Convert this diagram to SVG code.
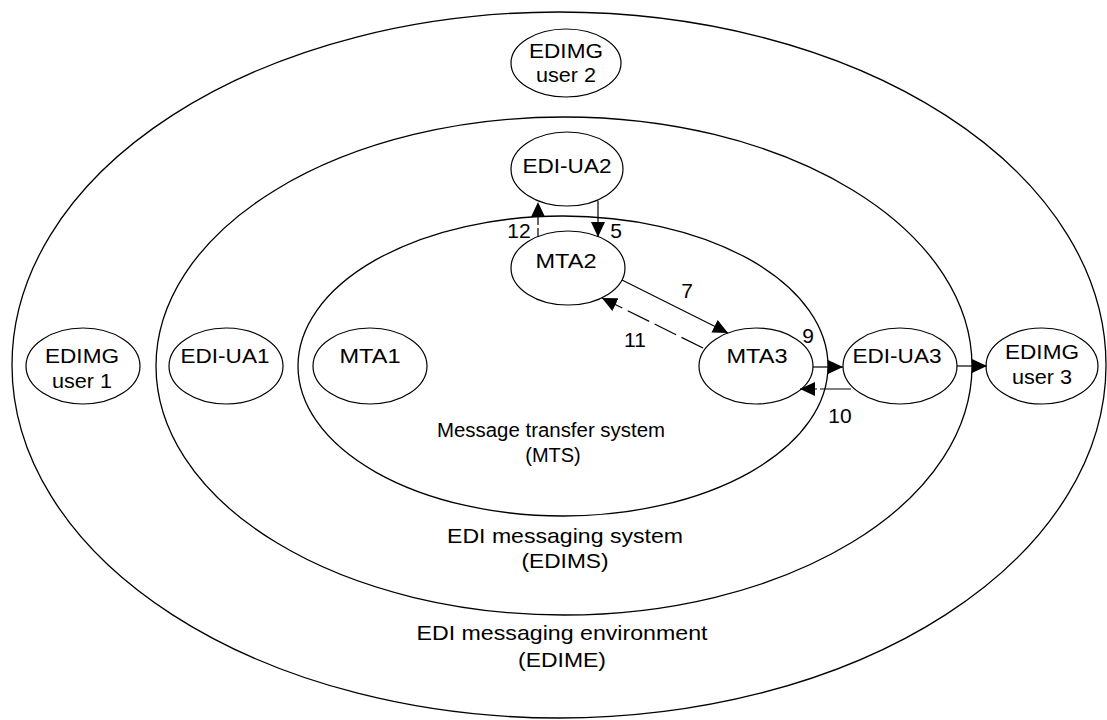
<svg xmlns="http://www.w3.org/2000/svg" width="1107" height="720" viewBox="0 0 1107 720">
<style>
.ring{fill:none;stroke:#000;stroke-width:1.3}
.node{fill:#fff;stroke:#000;stroke-width:1.2}
text{font-family:"Liberation Sans",Arial,sans-serif;font-size:20px;fill:#000;text-anchor:middle}
.lbl{font-size:21px}
.conn{stroke:#000;stroke-width:1.2;fill:none}
.dash1{stroke-dasharray:9 3}
.dash2{stroke-dasharray:24 6}
.dash3{stroke-dasharray:31 3}
</style>
<defs>
<marker id="ah" viewBox="0 0 15 14" markerWidth="15" markerHeight="14" refX="15" refY="7" orient="auto" markerUnits="userSpaceOnUse">
<path d="M0,0 L15,7 L0,14 z" fill="#000"/>
</marker>
</defs>
<rect width="1107" height="720" fill="#fff"/>
<g id="edime">
<ellipse class="ring" cx="559" cy="365" rx="547" ry="353"/>
<text class="lbl" x="562" y="640" textLength="291" lengthAdjust="spacingAndGlyphs">EDI messaging environment</text>
<text class="lbl" x="562" y="667" textLength="88" lengthAdjust="spacingAndGlyphs">(EDIME)</text>
</g>
<g id="edims">
<ellipse class="ring" cx="564" cy="366" rx="408" ry="249"/>
<text class="lbl" x="565" y="543" textLength="236" lengthAdjust="spacingAndGlyphs">EDI messaging system</text>
<text class="lbl" x="565" y="568" textLength="87" lengthAdjust="spacingAndGlyphs">(EDIMS)</text>
</g>
<g id="mts">
<ellipse class="ring" cx="563" cy="366" rx="265" ry="150"/>
<text x="551" y="437" textLength="228" lengthAdjust="spacingAndGlyphs">Message transfer system</text>
<text x="553" y="462">(MTS)</text>
</g>
<g id="edimg-user-2">
<ellipse class="node" cx="566" cy="63" rx="55" ry="34"/>
<text class="lbl" x="566" y="58" textLength="74" lengthAdjust="spacingAndGlyphs">EDIMG</text>
<text class="lbl" x="566" y="82" textLength="60" lengthAdjust="spacingAndGlyphs">user 2</text>
</g>
<g id="edi-ua2">
<ellipse class="node" cx="567" cy="169" rx="56" ry="37"/>
<text class="lbl" x="567" y="173" textLength="89" lengthAdjust="spacingAndGlyphs">EDI-UA2</text>
</g>
<g id="mta2">
<ellipse class="node" cx="568" cy="268" rx="57" ry="37"/>
<text class="lbl" x="566" y="268" textLength="61" lengthAdjust="spacingAndGlyphs">MTA2</text>
</g>
<g id="edimg-user-1">
<ellipse class="node" cx="83" cy="366" rx="57" ry="38"/>
<text class="lbl" x="82" y="363" textLength="74" lengthAdjust="spacingAndGlyphs">EDIMG</text>
<text class="lbl" x="82" y="388" textLength="60" lengthAdjust="spacingAndGlyphs">user 1</text>
</g>
<g id="edi-ua1">
<ellipse class="node" cx="226" cy="366" rx="57" ry="38"/>
<text class="lbl" x="225" y="363" textLength="89" lengthAdjust="spacingAndGlyphs">EDI-UA1</text>
</g>
<g id="mta1">
<ellipse class="node" cx="370" cy="366" rx="57" ry="38"/>
<text class="lbl" x="370" y="363" textLength="61" lengthAdjust="spacingAndGlyphs">MTA1</text>
</g>
<g id="mta3">
<ellipse class="node" cx="756" cy="366" rx="57" ry="38"/>
<text class="lbl" x="757" y="363" textLength="61" lengthAdjust="spacingAndGlyphs">MTA3</text>
</g>
<g id="edi-ua3">
<ellipse class="node" cx="900" cy="366" rx="57" ry="38"/>
<text class="lbl" x="897" y="363" textLength="89" lengthAdjust="spacingAndGlyphs">EDI-UA3</text>
</g>
<g id="edimg-user-3">
<ellipse class="node" cx="1042" cy="366" rx="56" ry="38"/>
<text class="lbl" x="1042" y="359" textLength="74" lengthAdjust="spacingAndGlyphs">EDIMG</text>
<text class="lbl" x="1042" y="384" textLength="60" lengthAdjust="spacingAndGlyphs">user 3</text>
</g>
<g id="connectors">
<line class="conn" x1="598" y1="201" x2="598" y2="237" marker-end="url(#ah)"/>
<line class="conn dash1" x1="538" y1="237" x2="538" y2="202" marker-end="url(#ah)"/>
<line class="conn" x1="622" y1="280" x2="728" y2="333" marker-end="url(#ah)"/>
<line class="conn dash2" x1="703" y1="348" x2="602" y2="298" marker-end="url(#ah)"/>
<line class="conn" x1="813" y1="367" x2="843" y2="367" marker-end="url(#ah)"/>
<line class="conn dash3" x1="851" y1="389" x2="800" y2="389" marker-end="url(#ah)"/>
<line class="conn" x1="957" y1="366" x2="987" y2="366" marker-end="url(#ah)"/>
<text class="lbl" x="519" y="238">12</text>
<text class="lbl" x="616" y="238">5</text>
<text class="lbl" x="687" y="298">7</text>
<text class="lbl" x="635" y="347">11</text>
<text class="lbl" x="808" y="343">9</text>
<text class="lbl" x="840" y="423">10</text>
</g>
</svg>
